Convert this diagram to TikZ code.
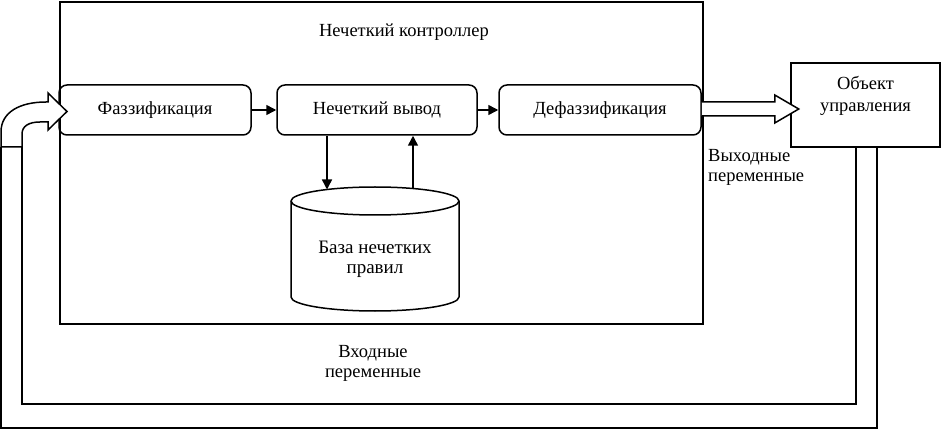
\documentclass[tikz,border=0pt]{standalone}
\usepackage{fontspec}
\setmainfont{Liberation Serif}
\newfontfamily\tms{Liberation Serif}
\usetikzlibrary{calc,arrows.meta}
\begin{document}
\begin{tikzpicture}[x=1pt,y=-1pt,
  txt/.style={font=\tms\fontsize{18.5}{20}\selectfont, align=center, inner sep=0pt},
  blk/.style={draw, line width=1.5pt, rounded corners=8pt, minimum height=50pt, inner sep=0pt, font=\tms\fontsize{18.5}{20}\selectfont},
  conn/.style={line width=1.5pt, -{Triangle[length=10pt,width=10pt]}},
  hollow/.style={line width=1.5pt, line join=miter, fill=white}]
\useasboundingbox (0,0) rectangle (942,430);
% controller frame
\node[draw, line width=2pt, minimum width=643pt, minimum height=321pt, inner sep=0pt, anchor=north west] (ctrl) at (58.5,1.5) {};
\node[txt] (title) at (404,32) {Нечеткий контроллер};
% blocks
\node[blk, minimum width=192pt] (fuzz) at (155,110) {Фаззификация};
\node[blk, minimum width=200pt] (inf) at (377,110) {Нечеткий вывод};
\node[blk, minimum width=202pt] (defuzz) at (600,110) {Дефаззификация};
\node[draw, line width=1.5pt, minimum width=149pt, minimum height=84pt, inner sep=0pt] (obj) at (865.5,105) {};
\node[txt, text width=149pt, font=\tms\fontsize{18.5}{22}\selectfont] (objtxt) at (865.5,96) {Объект\\управления};
% cylinder
\draw[line width=1.5pt, fill=white] (291,201) -- (291,297) arc[start angle=180, end angle=0, x radius=84, y radius=14] -- (459,201) arc[start angle=0, end angle=-180, x radius=84, y radius=14];
\draw[line width=1.5pt] (291,201) arc[start angle=180, end angle=0, x radius=84, y radius=14];
\node[txt, font=\tms\fontsize{19}{20}\selectfont] (kb) at (375,259) {База нечетких\\правил};
\coordinate (kbin) at (327,189.5);
\coordinate (kbout) at (413,188.5);
% connectors
\draw[conn] (fuzz) -- (inf);
\draw[conn] (inf) -- (defuzz);
\draw[conn] (inf.south -| kbin) -- (kbin);
\draw[conn] (kbout) -- (inf.south -| kbout);
% output hollow arrow
\draw[hollow] ($(defuzz.east)+(0,-8)$) -- ++(73,0) -- ++(0,-7) -- ++(24,14) -- ++(-24,14) -- ++(0,-7) -- ($(defuzz.east)+(0,6)$);
% feedback loop
\coordinate (fbo) at (877,147);
\coordinate (fbi) at (856,147);
\draw[line width=2pt, line join=miter] (fbo) -- (877,428) -- (1,428) -- (1,147);
\draw[line width=2pt, line join=miter] (fbi) -- (856,404) -- (22,404) -- (22,147);
% bent input arrow
\draw[hollow] (1,147) -- (1,132) .. controls (1,112) and (20,102) .. (46,102) -- (48,102) -- (48,93) -- (67,111.5) -- (48,130) -- (48,122) -- (40,122) .. controls (29,122) and (22,126) .. (22,134) -- (22,147) -- cycle;
% labels
\node[txt, align=left, anchor=west] (outlbl) at (708,167) {Выходные\\переменные};
\node[txt] (inlbl) at (373,363) {Входные\\переменные};
\end{tikzpicture}
\end{document}
